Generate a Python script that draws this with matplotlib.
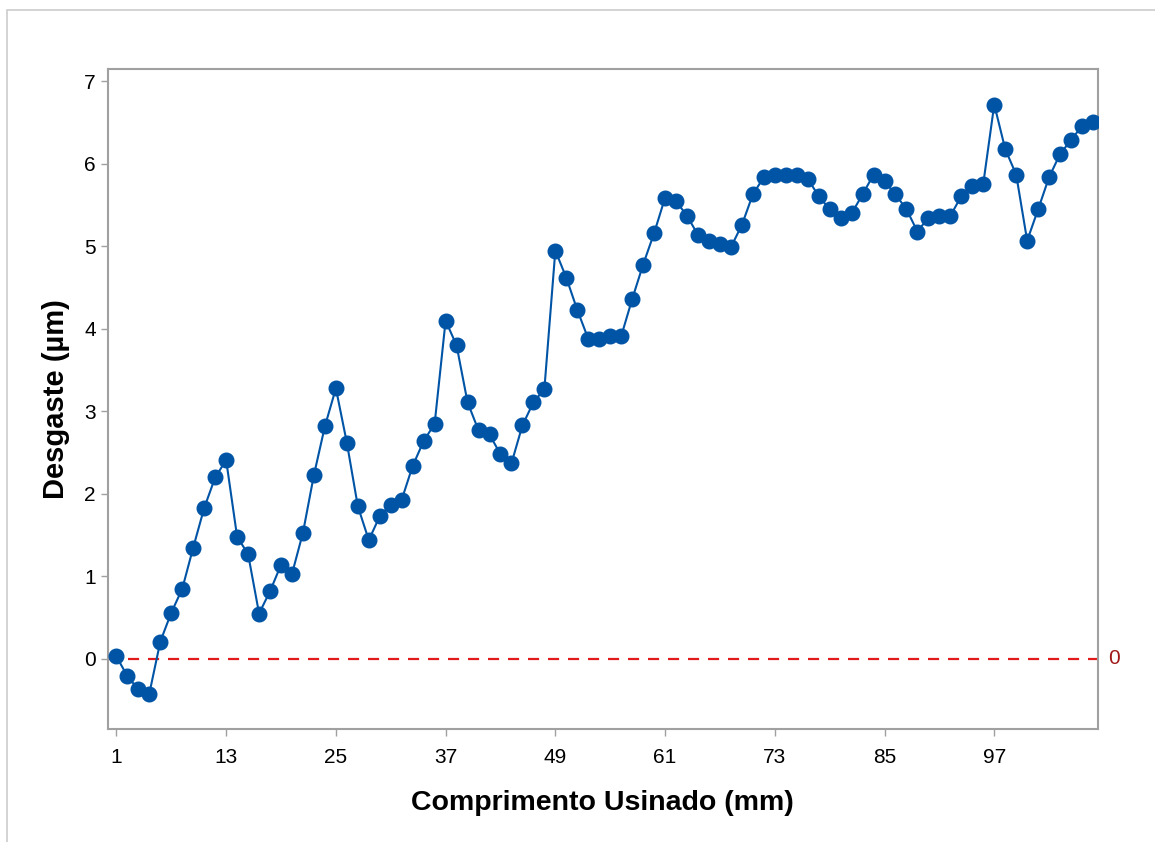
import matplotlib.pyplot as plt
import matplotlib.patches as patches
import numpy as np

# Desgaste (um) ao longo do comprimento usinado - 90 medicoes
desgaste = [
    0.03, -0.21, -0.37, -0.42, 0.21, 0.56, 0.85, 1.35, 1.83, 2.20,
    2.41, 1.48, 1.27, 0.55, 0.82, 1.14, 1.03, 1.53, 2.23, 2.82,
    3.28, 2.62, 1.85, 1.44, 1.73, 1.87, 1.93, 2.34, 2.64, 2.85,
    4.10, 3.80, 3.11, 2.77, 2.72, 2.48, 2.37, 2.83, 3.11, 3.27,
    4.95, 4.62, 4.23, 3.88, 3.88, 3.91, 3.91, 4.36, 4.78, 5.16,
    5.59, 5.55, 5.37, 5.14, 5.07, 5.03, 4.99, 5.26, 5.63, 5.84,
    5.87, 5.87, 5.87, 5.82, 5.61, 5.45, 5.34, 5.40, 5.63, 5.87,
    5.79, 5.63, 5.45, 5.18, 5.35, 5.37, 5.37, 5.61, 5.73, 5.76,
    6.72, 6.18, 5.87, 5.07, 5.45, 5.84, 6.12, 6.29, 6.46, 6.51,
]
xtick_pos = [0, 10, 20, 30, 40, 50, 60, 70, 80]
xtick_labels = ["1", "13", "25", "37", "49", "61", "73", "85", "97"]
ref_value = 0

plt.rcParams["font.family"] = ["Liberation Sans", "DejaVu Sans"]

fig = plt.figure(figsize=(11.55, 8.42), dpi=100)
ax = fig.add_axes([0.0932, 0.1342, 0.8574, 0.7838])

# light frame of the graph region
fig.patches.append(patches.Rectangle((7 / 1155, -0.1), 1.2, 1 - 10 / 842 + 0.1,
                                     transform=fig.transFigure, fill=False,
                                     edgecolor="#cccccc", linewidth=1.2))

idx = np.arange(len(desgaste))
ax.plot(idx, desgaste, color="#0054a6", linewidth=1.5, marker="o",
        markersize=10.5, markeredgecolor="#0054a6", zorder=3)
ax.axhline(ref_value, color="#e31a1c", linestyle=(0, (5, 4)), linewidth=1.6, zorder=2)
ax.text(1.01, ref_value, "0", transform=ax.get_yaxis_transform(),
        color="#a01818", fontsize=15, va="center", ha="left")

ax.set_xlim(-0.8, 89.45)
ax.set_ylim(-0.85, 7.15)
ax.set_xticks(xtick_pos)
ax.set_xticklabels(xtick_labels)
ax.set_yticks(range(0, 8))

for s in ax.spines.values():
    s.set_color("#a0a0a0")
    s.set_linewidth(1.5)
ax.tick_params(colors="#a0a0a0", labelcolor="black", labelsize=15, length=5, width=1)
ax.tick_params(axis="x", pad=9)

ax.set_xlabel("Comprimento Usinado (mm)", fontsize=20.5, fontweight="bold", labelpad=16)
ax.set_ylabel("Desgaste (µm)", fontsize=21, fontweight="bold", labelpad=10)

fig.savefig("out.png", dpi=100)
